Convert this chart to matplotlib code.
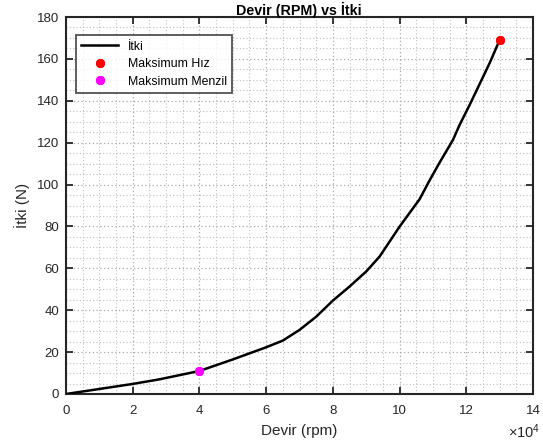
import matplotlib
matplotlib.use("Agg")
import matplotlib.pyplot as plt
from matplotlib.ticker import MultipleLocator, FuncFormatter

plt.rcParams['font.family'] = ['Liberation Sans', 'DejaVu Sans']
plt.rcParams['mathtext.fontset'] = 'custom'
plt.rcParams['mathtext.rm'] = 'Liberation Sans'
plt.rcParams['mathtext.it'] = 'Liberation Sans'

# Data (rpm, thrust N)
rpm = [0, 10000, 20000, 28000, 40000, 50000, 60000, 65000, 70000, 75000, 80000,
       85000, 90000, 94000, 100000, 106000, 109000, 112000, 116000, 118000,
       121000, 124000, 127000, 130000]
thrust = [0, 2.4, 4.8, 7.0, 11.0, 16.5, 22.3, 25.5, 30.6, 36.9, 44.6,
          51.3, 58.5, 65.6, 79.9, 93.0, 102.0, 110.5, 121.3, 128.5,
          138.0, 148.0, 158.0, 169.0]
max_speed = (130000, 169.0)
max_range = (40000, 11.0)

fig = plt.figure(figsize=(5.43, 4.43), dpi=100)
ax = fig.add_axes([66/543, 49/443, 467/543, 377/443])

ax.plot(rpm, thrust, color='black', lw=1.8, label='İtki', zorder=3)
ax.plot([max_speed[0]], [max_speed[1]], linestyle='none', marker=(8, 2, 0),
        ms=6.5, mew=2.0, color='red', label='Maksimum Hız', zorder=4)
ax.plot([max_range[0]], [max_range[1]], linestyle='none', marker=(8, 2, 0),
        ms=6.5, mew=2.0, color='magenta', label='Maksimum Menzil', zorder=4)

ax.set_xlim(0, 140000)
ax.set_ylim(0, 180)
ax.xaxis.set_major_locator(MultipleLocator(20000))
ax.xaxis.set_minor_locator(MultipleLocator(5000))
ax.yaxis.set_major_locator(MultipleLocator(20))
ax.yaxis.set_minor_locator(MultipleLocator(5))
ax.xaxis.set_major_formatter(FuncFormatter(lambda v, p: f"{v/1e4:g}"))

ax.grid(which='major', color='#a8a8a8', linestyle=(0, (1, 2)), lw=0.9)
ax.grid(which='minor', color='#c0c0c0', linestyle=(0, (1, 2)), lw=0.8)

ax.tick_params(which='major', direction='in', length=5, width=1.3,
               top=True, right=True, labelsize=9.5, colors='#262626', pad=5)
ax.tick_params(axis='x', which='major', pad=8)
ax.tick_params(which='minor', length=0, top=True, right=True)
for s in ax.spines.values():
    s.set_color('#262626')
    s.set_linewidth(1.5)

fig.text(299/543, 1 - 10/443, 'Devir (RPM) vs İtki', ha='center', va='center',
         fontsize=10.3, fontweight='bold')
ax.set_xlabel('Devir (rpm)', fontsize=11, color='#262626', labelpad=5)
ax.set_ylabel('İtki (N)', fontsize=11, color='#262626', labelpad=5)
fig.text(540/543, 1 - 432/443, r'$\times10^{4}$', ha='right', va='center',
         fontsize=10.5, color='#262626')

leg = ax.legend(loc='upper left', fontsize=8.8, frameon=True, fancybox=False,
                edgecolor='#262626', borderpad=0.45, handlelength=3.0,
                labelspacing=0.45, bbox_to_anchor=(0.021, 0.952),
                borderaxespad=0)
leg.get_frame().set_linewidth(1.3)

fig.savefig('out.png', dpi=100)
